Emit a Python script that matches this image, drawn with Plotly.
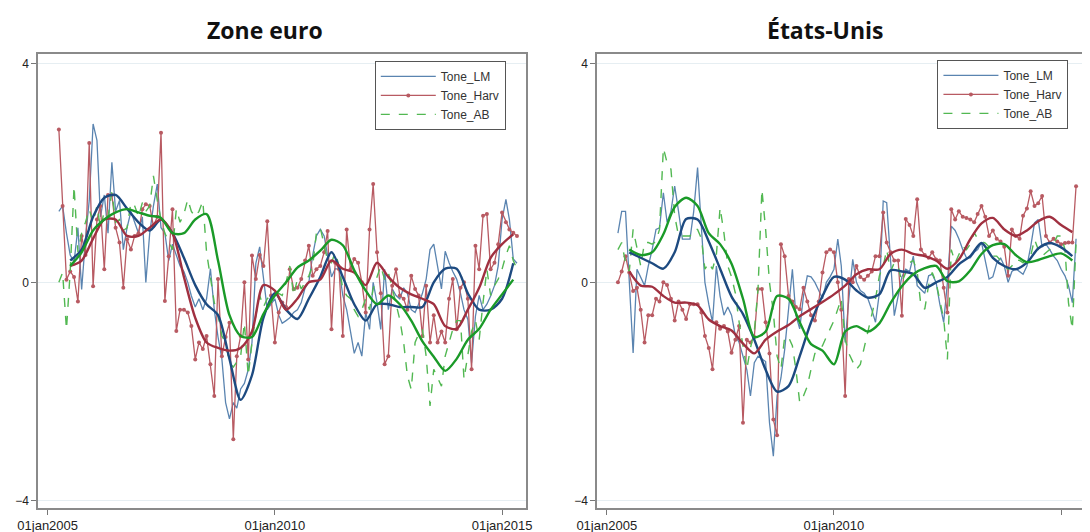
import pandas as pd
import plotly.graph_objects as go

# monthly dates, Apr 2005 .. May 2015 ; quarterly dates for the smoothed lines
months = pd.date_range("2005-04-01", periods=122, freq="MS")
quarters = pd.date_range("2005-07-01", periods=40, freq="3MS")

# ---- Zone euro : raw monthly series (one row per year) ----
ez_lm = [1.3, 1.4, 0.9, 0.5, 0.37, 1.0, -0.13, 0.8, 1.5,
         2.9, 2.6, 1.2, 1.6, 0.9, 2.2, 1.3, 1.5, 0.6, 1.0, 1.3, 1.1,
         0.9, 1.2, 0.0, 0.9, 1.4, 1.8, 1.0, 0.9, 0.4, 0.7, 0.5, 0.3,
         0.2, 0.0, -0.25, -0.45, -0.3, -0.5, -0.3, 0.25, -0.5, -1.0, -1.4, -2.2,
         -2.5, -2.2, -2.3, -1.95, -1.85, -1.6, -1.1, 0.35, 0.65, 0.05, -0.5, -0.4,
         -0.3, -0.6, -0.75, -0.7, -0.65, -0.55, -0.5, -0.37, -0.1, 0.0, 0.5, 0.85,
         0.97, 0.85, 0.5, 0.1, 0.25, 0.24, -0.24, -0.5, -0.9, -1.3, -1.1, -1.35,
         -0.55, -0.86, 0.0, -0.37, -0.86, 0.24, -0.5, -0.12, -0.24, -0.3, -0.1, -0.2,
         -0.5, -0.55, -0.4, -0.2, 0.06, 0.6, 0.7, 0.3, -0.12, 0.57, 0.36, 0.2,
         0.06, -0.2, -0.5, -0.68, -1.47, -0.62, -0.24, -0.5, -0.4, -0.25, -0.06, 0.3,
         1.15, 1.52, 1.15, 0.43, 0.35]
ez_harv = [2.8, 1.4, 0.05, 0.2, 0.1, -0.35, 0.85, 0.5, 2.55,
           -0.07, 1.15, 1.4, 0.24, 1.6, 1.6, 1.0, 0.73, -0.1, 0.79, 0.6, 0.85,
           0.9, 1.34, 1.43, 1.4, 1.03, 1.2, 2.74, -0.34, 0.48, 1.34, -0.89, -0.5,
           -0.5, -0.55, -0.8, -1.41, -1.1, -1.22, -0.98, -1.5, -2.08, 0.06, -1.35, -1.0,
           -0.74, -2.87, -1.35, -0.98, 0.0, -1.41, 0.49, 0.06, 0.5, 0.3, 1.12, -0.24,
           -1.1, -0.55, -0.37, -0.45, 0.24, -0.12, -0.1, 0.06, 0.4, 0.67, 0.12, 0.24,
           0.3, 0.55, 0.94, -0.86, 0.36, 0.24, -0.98, 0.97, 0.24, 0.43, 0.36, 0.0,
           -0.55, 0.97, 1.8, 0.55, -0.2, -1.5, -1.35, -0.06, 0.24, -0.24, -0.3, -0.5,
           0.12, -0.12, -0.24, -0.98, -0.06, -1.1, -0.6, -1.1, -0.9, -1.1, -0.3, 0.06,
           -0.86, -0.1, 0.0, -0.3, -1.59, 0.67, 0.24, 1.22, 1.25, 0.24, 0.36, 0.7,
           1.28, 1.1, 0.97, 0.91, 0.85]
ez_ab = [0.0, 0.18, -0.86, 0.2, 1.76, 0.55, 0.9, 1.1, 1.34,
         1.1, 1.4, 1.0, 1.3, 1.2, 1.65, 1.1, 1.15, 0.95, 1.0, 1.46, 1.4,
         1.2, 1.46, 1.3, 1.4, 1.95, 1.5, 1.15, 0.9, 0.73, 0.6, 1.34, 1.1,
         1.25, 1.52, 1.3, 1.2, 1.3, 1.49, 0.55, 0.12, -0.37, -0.6, -0.98, -1.1,
         -1.47, -1.55, -1.45, -1.35, -0.74, -1.71, -1.1, -0.6, -0.24, -0.45, -0.3, -0.24,
         -0.24, -0.2, -0.24, 0.0, 0.3, -0.24, 0.06, -0.12, 0.0, 0.12, 0.3, 0.91,
         1.0, 0.7, 0.4, 0.36, 0.55, 0.3, -0.12, -0.24, -0.3, -0.5, -0.62, -0.5,
         -0.3, -0.5, -0.12, 0.1, 0.3, 0.05, 0.18, -0.1, -0.37, -0.68, -1.1, -1.71,
         -1.96, -1.1, -0.95, -0.86, -1.35, -2.26, -1.59, -1.75, -1.9, -1.35, -1.1, -0.86,
         -0.7, -0.7, -1.77, -1.28, -0.9, -0.7, -1.05, -0.37, 0.24, -0.24, -0.06, 0.06,
         0.24, 0.5, 0.67, 0.4, 0.24]

# ---- Zone euro : smoothed (quarterly reading of the thick lines) ----
ez_lm_s = [0.4, 0.6, 1.2, 1.55, 1.6, 1.35, 1.1, 0.95, 1.15, 0.9, 0.45, -0.05, -0.4, -0.6,
           -1.4, -2.15, -1.7, -0.65, -0.2, -0.5, -0.67, -0.3, 0.1, 0.55, 0.1, -0.4,
           -0.7, -0.4, -0.4, -0.45, -0.45, -0.45, 0.0, 0.25, 0.25, -0.2, -0.5, -0.5, -0.3, 0.35]
ez_harv_s = [0.3, 0.4, 0.8, 1.15, 1.15, 0.85, 0.85, 1.0, 1.15, 0.9, 0.1, -0.65, -1.1, -1.2,
             -1.25, -1.2, -0.9, -0.05, -0.15, -0.5, -0.3, 0.0, 0.05, 0.4, 0.25, 0.18,
             -0.05, 0.36, 0.1, -0.1, -0.22, -0.3, -0.4, -0.8, -0.85, -0.5, -0.1, 0.45, 0.7, 0.88]
ez_ab_s = [0.3, 0.55, 0.95, 1.15, 1.28, 1.34, 1.28, 1.22, 1.18, 0.9, 0.9, 1.15, 1.25, 0.4,
           -0.6, -0.98, -1.0, -0.58, -0.24, 0.0, 0.27, 0.4, 0.58, 0.78, 0.68, 0.22,
           -0.15, -0.4, -0.24, -0.4, -0.7, -1.08, -1.36, -1.62, -1.4, -1.05, -0.85, -0.5, -0.22, 0.05]

# ---- Etats-Unis : raw monthly series ----
us_lm = [0.9, 1.3, 1.3, 0.0, -1.29, 0.24, 0.1, -0.06, 0.3,
         0.6, 0.97, 1.0, 1.64, 1.1, 1.3, 1.76, 1.3, 0.79, 0.79, 0.79, 1.3,
         2.1, 1.0, 0.0, -0.4, -0.73, 0.3, -0.25, -0.6, -0.45, -0.6, -0.98, -1.1,
         -1.35, -1.6, -2.08, -1.47, -1.35, -1.4, -1.45, -2.57, -3.18, -2.08, -1.75, -1.23,
         -0.5, 0.24, -0.6, -0.85, -0.25, 0.12, 0.1, 0.0, -0.15, -0.3, 0.0, 0.1,
         0.24, 0.79, 0.3, -1.1, -0.3, 0.42, 0.0, -0.15, -0.2, -0.3, -0.5, -0.73,
         -0.2, 1.49, 1.46, 0.35, -0.61, -0.25, 0.1, 0.24, 0.2, 0.48, -0.06, -0.13,
         -0.2, 0.12, 0.15, 0.0, -0.4, -0.73, 0.0, 1.03, 0.95, 0.8, 0.6, 0.45,
         0.45, 0.55, 0.6, 0.73, 0.4, 0.06, 0.1, 0.35, 0.45, 0.3, 0.0, 0.2,
         0.25, 0.2, 0.15, 0.3, 0.65, 1.09, 1.15, 0.65, 0.7, 0.6, 0.48, 0.4,
         0.24, 0.12, -0.06, -0.37, 0.8]
us_harv = [0.0, 0.2, 0.48, 0.18, -0.16, -0.1, -0.5, -1.1, -0.6,
           -0.6, -0.3, -0.35, 0.0, -0.05, -0.3, -0.7, -0.35, -0.5, -0.67, -0.4, -0.4,
           -0.4, -0.55, -0.98, -1.2, -1.59, -0.73, -0.85, -0.8, -0.9, -1.29, -1.05, -0.8,
           -2.57, -1.05, -1.1, -1.0, -0.12, -0.12, -0.73, -1.3, -2.51, -2.8, 0.7, 0.48,
           -0.25, -0.35, -0.45, -0.49, -0.1, -0.35, -0.6, -0.7, -0.35, 0.18, 0.55, 0.6,
           0.55, 0.0, -0.5, -2.08, 0.06, 0.0, 0.3, 0.1, 0.05, 0.12, 0.2, 0.48,
           0.48, 1.28, 0.73, 0.55, 0.4, 0.4, -0.61, 1.16, 1.05, 0.85, 1.52, 0.6,
           0.5, 0.45, 0.55, 0.42, 0.4, -0.1, -0.55, 1.34, 1.15, 1.3, 1.2, 1.18,
           1.15, 1.1, 1.25, 1.4, 1.2, 0.85, 0.95, 0.8, 0.75, 0.65, 0.12, 0.97,
           0.85, 0.8, 1.22, 1.35, 1.67, 1.4, 1.45, 1.58, 0.85, 0.73, 0.8, 0.75,
           0.7, 0.72, 0.73, 0.73, 1.76]
us_ab = [0.6, 0.73, 0.36, 0.2, 0.97, 0.6, 0.3, 0.73, 0.73,
         0.7, 0.75, 0.97, 2.46, 2.19, 2.07, 1.22, 0.85, 0.85, 0.85, 0.85, 0.97,
         0.97, 0.8, 0.24, 0.36, 0.24, 0.5, 1.37, 0.9, 0.3, 0.1, -0.2, -0.73,
         -1.16, -1.59, -1.2, -0.9, -0.12, 1.7, 0.97, 0.0, -0.55, -1.35, -1.59, -1.0,
         -1.0, -1.16, -1.59, -2.2, -2.08, -1.9, -1.59, -1.3, -1.25, -1.16, -1.0, -0.85,
         -0.7, -0.49, -0.3, -1.04, -1.3, -1.45, -1.59, -1.5, -1.2, -0.9, -0.61, -0.3,
         0.12, 0.3, 0.6, 0.2, 0.36, 0.3, 0.0, 0.2, 0.36, 0.4, 0.2, -0.43,
         -0.49, -0.05, 0.18, 0.0, -0.3, -0.67, -1.41, 0.6, 0.36, 0.5, 0.66, 0.6,
         0.7, 0.91, 0.8, 0.75, 0.72, 0.65, 0.48, 0.48, 0.4, 0.3, 0.24, 0.3,
         0.42, 0.4, 0.36, 0.45, 0.48, 0.79, 0.6, 0.48, 0.55, 0.6, 0.7, 0.85,
         0.85, 0.6, -0.37, -0.86, 0.73]

# ---- Etats-Unis : smoothed ----
us_lm_s = [0.55, 0.45, 0.35, 0.25, 0.55, 1.16, 1.15, 0.75, 0.25, -0.26, -0.58, -1.05, -1.6, -2.0,
           -1.9, -1.35, -0.73, -0.25, 0.1, 0.05, -0.15, -0.28, -0.22, 0.22, 0.2, 0.15,
           -0.1, 0.0, 0.1, 0.33, 0.48, 0.72, 0.45, 0.3, 0.24, 0.36, 0.62, 0.72, 0.64, 0.48]
us_harv_s = [0.2, -0.06, -0.08, -0.25, -0.37, -0.37, -0.42, -0.68, -0.8, -0.88, -1.12, -1.3, -1.05, -0.9,
             -0.78, -0.62, -0.49, -0.36, -0.22, -0.06, 0.15, 0.24, 0.24, 0.52, 0.6, 0.52,
             0.48, 0.4, 0.25, 0.42, 0.79, 1.08, 1.18, 0.97, 0.85, 0.95, 1.12, 1.2, 1.05, 0.92]
us_ab_s = [0.6, 0.5, 0.55, 0.88, 1.38, 1.55, 1.4, 0.9, 0.7, 0.34, -0.3, -1.0, -0.9, -0.25,
           -0.3, -0.73, -1.13, -1.25, -1.5, -0.9, -0.8, -0.9, -0.75, -0.38, -0.07, 0.15,
           0.26, 0.3, 0.02, 0.02, 0.22, 0.52, 0.68, 0.7, 0.5, 0.37, 0.41, 0.48, 0.53, 0.4]

titles = ["Zone euro", "États-Unis"]
tick_dates = ["2005-01-01", "2010-01-01", "2015-01-01"]
tick_text = ["01jan2005", "01jan2010", "01jan2015"]

LM_THIN, LM_THICK = "#5a84b0", "#1d4a80"
HARV_THIN, HARV_THICK = "#b85a62", "#a03040"
AB_THIN, AB_THICK = "#52b852", "#1a9a28"


def add_panel(fig, n, lm, harv, ab, lm_s, harv_s, ab_s):
    xa = "x" if n == 1 else "x2"
    ya = "y" if n == 1 else "y2"
    leg = "legend" if n == 1 else "legend2"
    fig.add_trace(go.Scatter(x=months, y=lm, name="Tone_LM", mode="lines",
                             line=dict(color=LM_THIN, width=1.3),
                             xaxis=xa, yaxis=ya, legend=leg))
    fig.add_trace(go.Scatter(x=months, y=harv, name="Tone_Harv", mode="lines+markers",
                             line=dict(color=HARV_THIN, width=1.3),
                             marker=dict(color=HARV_THIN, size=4),
                             xaxis=xa, yaxis=ya, legend=leg))
    fig.add_trace(go.Scatter(x=months, y=ab, name="Tone_AB", mode="lines",
                             line=dict(color=AB_THIN, width=1.4, dash="dash"),
                             xaxis=xa, yaxis=ya, legend=leg))
    # thick smoothed lines, not in the legend
    for vals, col in [(lm_s, LM_THICK), (harv_s, HARV_THICK), (ab_s, AB_THICK)]:
        fig.add_trace(go.Scatter(x=quarters, y=vals, mode="lines", showlegend=False,
                                 line=dict(color=col, width=2.4, shape="spline", smoothing=0.8),
                                 xaxis=xa, yaxis=ya, hoverinfo="skip"))


fig = go.Figure()
add_panel(fig, 1, ez_lm, ez_harv, ez_ab, ez_lm_s, ez_harv_s, ez_ab_s)
add_panel(fig, 2, us_lm, us_harv, us_ab, us_lm_s, us_harv_s, us_ab_s)

x_common = dict(range=["2004-10-15", "2015-07-12"], tickvals=tick_dates, ticktext=tick_text,
                ticks="outside", ticklen=5, tickcolor="#777", showgrid=False, zeroline=False,
                showline=True, linecolor="#8a8a8a", linewidth=1.5, mirror=True, automargin=False,
                tickfont=dict(family="Liberation Sans", size=13, color="#222"))
y_common = dict(range=[-4.13, 4.18], tickvals=[-4, 0, 4], ticks="outside", ticklen=5,
                tickcolor="#777", showgrid=True, gridcolor="#e6eef2", gridwidth=1, zeroline=False,
                showline=True, linecolor="#8a8a8a", linewidth=1.5, mirror=True, automargin=False,
                tickfont=dict(family="Liberation Sans", size=12, color="#222"))

leg_common = dict(bgcolor="white", bordercolor="#555", borderwidth=1, xanchor="left", yanchor="top",
                  font=dict(family="Liberation Sans", size=12, color="#333"),
                  itemwidth=55, tracegroupgap=0)

# page body has an 8px margin, so the figure is drawn 8px right/down
fig.update_layout(
    width=1082, height=524, autosize=False,
    margin=dict(l=0, r=0, t=0, b=0),
    plot_bgcolor="white", paper_bgcolor="white",
    xaxis=dict(domain=[0.0277, 0.4787], anchor="y", **x_common),
    yaxis=dict(domain=[0.0458, 0.9122], anchor="x", **y_common),
    xaxis2=dict(domain=[0.5444, 0.9954], anchor="y2", **x_common),
    yaxis2=dict(domain=[0.0458, 0.9122], anchor="x2", **y_common),
    legend=dict(x=0.339, y=0.899, **leg_common),
    legend2=dict(x=0.859, y=0.901, **leg_common),
)

for i, t in enumerate(titles):
    cx = [0.2375, 0.7551][i]
    fig.add_annotation(text="<b>" + t + "</b>", x=cx, y=0.958, xref="paper", yref="paper",
                       showarrow=False, xanchor="center", yanchor="middle",
                       font=dict(family="Open Sans", size=23, color="#111"))

fig.write_html("out.html")
